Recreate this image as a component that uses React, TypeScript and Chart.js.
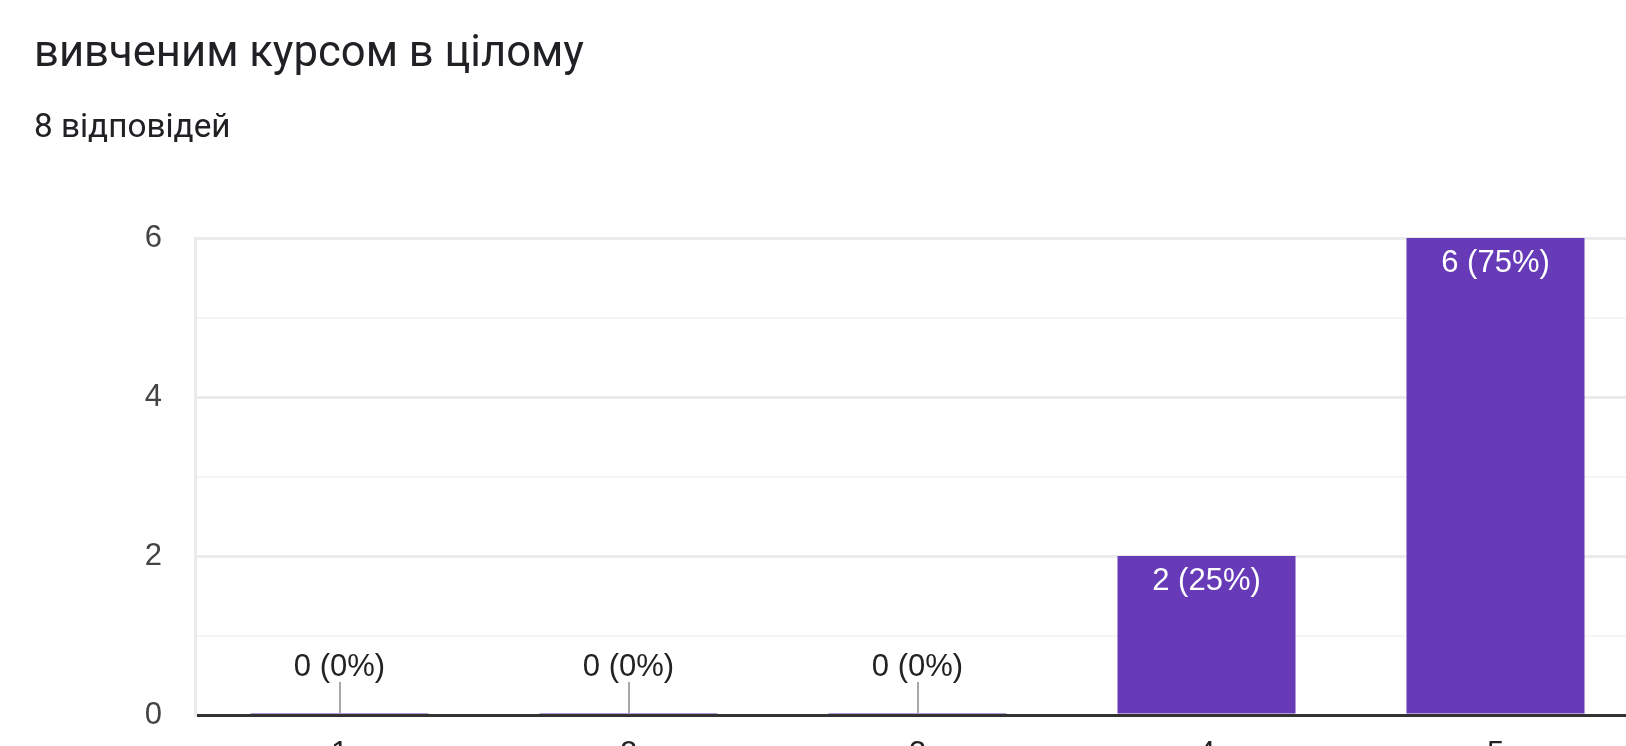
import React, { useEffect, useRef } from "react";
import { Chart, registerables } from "chart.js";

Chart.register(...registerables);

const categories = ["1", "2", "3", "4", "5"];
const counts = [0, 0, 0, 2, 6];
const yTickLabels = [0, 2, 4, 6];
const titleText = "вивченим курсом в цілому";
const responsesText = "8 відповідей";

const CHART_FONT = "'Liberation Sans', Arial, sans-serif";
const TEXT_FONT = "Roboto, 'Noto Sans', sans-serif";
const BAR_COLOR = "#673ab7";

export default function App() {
  const ref = useRef<HTMLCanvasElement>(null);

  useEffect(() => {
    const canvas = ref.current;
    if (!canvas) return;
    const total = counts.reduce((a, b) => a + b, 0);

    const labelPlugin = {
      id: "barLabels",
      afterDatasetsDraw(chart: any) {
        const ctx = chart.ctx;
        const meta = chart.getDatasetMeta(0);
        const base = chart.scales.y.getPixelForValue(0);
        ctx.save();
        ctx.font = `31px ${CHART_FONT}`;
        ctx.textAlign = "center";
        ctx.textBaseline = "middle";
        meta.data.forEach((el: any, i: number) => {
          const v = counts[i];
          const text = `${v} (${Math.round((v / total) * 100)}%)`;
          if (v === 0) {
            ctx.strokeStyle = "#a8a8a8";
            ctx.lineWidth = 2;
            ctx.beginPath();
            ctx.moveTo(Math.round(el.x), base - 2);
            ctx.lineTo(Math.round(el.x), base - 33);
            ctx.stroke();
            ctx.fillStyle = "#222222";
            ctx.fillText(text, el.x, base - 48);
          } else {
            ctx.fillStyle = "#ffffff";
            ctx.fillText(text, el.x, el.y + 25);
          }
        });
        ctx.restore();
      },
    };

    const chart = new Chart(canvas, {
      type: "bar",
      data: {
        labels: categories,
        datasets: [
          {
            data: counts,
            backgroundColor: BAR_COLOR,
            borderWidth: 0,
            barPercentage: 0.616,
            categoryPercentage: 1,
            minBarLength: 2,
          },
        ],
      },
      options: {
        responsive: false,
        animation: false,
        devicePixelRatio: 1,
        layout: { padding: { top: 238, right: 20, bottom: 0, left: 0 } },
        plugins: {
          legend: { display: false },
          tooltip: { enabled: false },
        },
        scales: {
          x: {
            afterFit(scale: any) {
              scale.height = 85;
            },
            grid: { display: false, drawTicks: false },
            border: { display: false },
            ticks: {
              padding: 21,
              color: "#222222",
              font: { family: CHART_FONT, size: 31 },
            },
          },
          y: {
            min: 0,
            max: 6,
            afterFit(scale: any) {
              scale.width = 195;
            },
            ticks: {
              stepSize: 1,
              padding: 33,
              color: "#444444",
              font: { family: CHART_FONT, size: 31 },
              callback: (v: any) => (yTickLabels.includes(Number(v)) ? String(v) : ""),
            },
            grid: {
              drawTicks: false,
              color: (c: any) =>
                c.tick.value === 0 ? "#333333" : c.tick.value % 2 === 0 ? "#ebebeb" : "#f5f5f5",
              lineWidth: (c: any) => (c.tick.value % 2 === 0 ? 3 : 2),
            },
            border: { display: true, color: "#ebebeb", width: 3 },
          },
        },
      },
      plugins: [labelPlugin],
    });

    return () => chart.destroy();
  }, []);

  return (
    <div
      style={{
        position: "fixed",
        left: 0,
        top: 0,
        width: 1626,
        height: 746,
        overflow: "hidden",
        background: "#ffffff",
      }}
    >
      <canvas
        ref={ref}
        width={1660}
        height={800}
        style={{ position: "absolute", left: 0, top: 0, width: 1660, height: 800 }}
      />
      <div
        style={{
          position: "absolute",
          left: 34,
          top: 30,
          fontFamily: TEXT_FONT,
          fontSize: 43.6,
          lineHeight: "43px",
          color: "#202124",
          whiteSpace: "nowrap",
        }}
      >
        {titleText}
      </div>
      <div
        style={{
          position: "absolute",
          left: 34,
          top: 109,
          fontFamily: TEXT_FONT,
          fontSize: 33.3,
          lineHeight: "33px",
          color: "#202124",
          whiteSpace: "nowrap",
        }}
      >
        {responsesText}
      </div>
    </div>
  );
}
